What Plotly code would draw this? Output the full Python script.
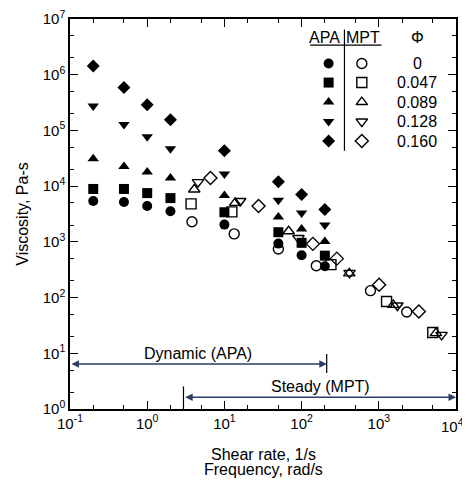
import math
import plotly.graph_objects as go

phi_labels = ["0", "0.047", "0.089", "0.128", "0.160"]
symbols = ["circle", "square", "triangle-up", "triangle-down", "diamond"]

x_tickvals = [0.1, 1, 10, 100, 1000, 10000]
x_ticktext = ["10<sup>-1</sup>", "10<sup>0</sup>", "10<sup>1</sup>", "10<sup>2</sup>",
              "10<sup>3</sup>", "10<sup>4</sup>"]
y_tickvals = [1, 10, 100, 1000, 1e4, 1e5, 1e6, 1e7]
y_ticktext = ["10<sup>0</sup>", "10<sup>1</sup>", "10<sup>2</sup>", "10<sup>3</sup>",
              "10<sup>4</sup>", "10<sup>5</sup>", "10<sup>6</sup>", "10<sup>7</sup>"]

# APA (dynamic) data: frequency, rad/s
apa_freq = [0.2, 0.5, 1, 2, 10, 50, 100, 200]
apa_phi0 = [5400, 5200, 4400, 3550, 2040, 930, 575, 365]
apa_phi047 = [8900, 8900, 7500, 6100, 3400, 1490, 960, 565]
apa_phi089 = [31000, 22500, 18000, 14000, 6800, 2800, 1700, 1020]
apa_phi128 = [275000, 128000, 77000, 47000, 16600, 5600, 3300, 2000]
apa_phi160 = [1440000, 590000, 290000, 156000, 43000, 12000, 7100, 3800]

# MPT (steady) data: shear rate, 1/s
mpt_rate_phi0 = [3.8, 13.4, 50, 155, 780, 2300]
mpt_eta_phi0 = [2300, 1390, 745, 373, 133, 55]
mpt_rate_phi047 = [3.7, 12.5, 240, 1260, 5000]
mpt_eta_phi047 = [4800, 3450, 390, 85, 23.6]
mpt_rate_phi089 = [4.07, 13.8, 68, 415, 1540, 5500]
mpt_eta_phi089 = [8700, 5000, 1550, 272, 74, 23]
mpt_rate_phi128 = [4.55, 16, 91, 418, 1740, 6500]
mpt_eta_phi128 = [11800, 5400, 1170, 278, 72, 21.4]
mpt_rate_phi160 = [6.6, 27.7, 140, 286, 1010, 3300]
mpt_eta_phi160 = [14000, 4400, 920, 500, 170, 56]

apa_sets = [apa_phi0, apa_phi047, apa_phi089, apa_phi128, apa_phi160]
mpt_sets = [
    (mpt_rate_phi0, mpt_eta_phi0),
    (mpt_rate_phi047, mpt_eta_phi047),
    (mpt_rate_phi089, mpt_eta_phi089),
    (mpt_rate_phi128, mpt_eta_phi128),
    (mpt_rate_phi160, mpt_eta_phi160),
]

FONT = "Liberation Sans, Arial, sans-serif"
fig = go.Figure()

for sym, eta in zip(symbols, apa_sets):
    fig.add_trace(go.Scatter(x=apa_freq, y=eta, mode="markers", showlegend=False,
                             marker=dict(symbol=sym, size=10, color="black")))

for sym, (rate, eta) in zip(symbols, mpt_sets):
    fig.add_trace(go.Scatter(x=rate, y=eta, mode="markers", showlegend=False,
                             marker=dict(symbol=sym + "-open", size=10, color="black",
                                         line=dict(width=1.4, color="black"))))


def note(x, y, text, xref="paper", yref="paper", yshift=0, xshift=0, size=16):
    fig.add_annotation(x=x, y=y, xref=xref, yref=yref, text=text, showarrow=False,
                       xanchor="center", yanchor="middle", yshift=yshift, xshift=xshift,
                       font=dict(size=size))


# custom legend table on an overlay axis (0..1 over the plot area)
legend_x_apa, legend_x_mpt, legend_x_phi = 0.670, 0.756, 0.899
legend_rows = [0.886, 0.837, 0.787, 0.737, 0.687]
for sym, ry, lab in zip(symbols, legend_rows, phi_labels):
    fig.add_trace(go.Scatter(x=[legend_x_apa], y=[ry], xaxis="x2", yaxis="y2", mode="markers",
                             showlegend=False, marker=dict(symbol=sym, size=10, color="black")))
    fig.add_trace(go.Scatter(x=[legend_x_mpt], y=[ry], xaxis="x2", yaxis="y2", mode="markers",
                             showlegend=False,
                             marker=dict(symbol=sym + "-open", size=10, color="black",
                                         line=dict(width=1.4, color="black"))))
    note(legend_x_phi, ry, lab)

note(0.660, 0.952, "APA")
note(0.760, 0.952, "MPT")
note(0.899, 0.952, "Φ")
fig.add_shape(type="line", xref="paper", yref="paper", x0=0.622, x1=0.807, y0=0.933, y1=0.933,
              line=dict(color="black", width=1.2))
fig.add_shape(type="line", xref="paper", yref="paper", x0=0.711, x1=0.711, y0=0.662, y1=0.973,
              line=dict(color="black", width=1.2))

# range arrows
fig.add_annotation(x=math.log10(212), y=0.809, ax=-1, ay=0.809, xref="x", yref="y",
                   axref="x", ayref="y", text="", showarrow=True, arrowhead=2,
                   arrowside="end+start", arrowsize=1, arrowwidth=1.5)
fig.add_shape(type="line", xref="paper", yref="paper", x0=0.665, x1=0.665, y0=0.092, y1=0.141,
              line=dict(color="black", width=1.2))
note(math.log10(4.6), 1.0, "Dynamic (APA)", "x", "y")

fig.add_annotation(x=4, y=0.21, ax=math.log10(2.97), ay=0.21, xref="x", yref="y",
                   axref="x", ayref="y", text="", showarrow=True, arrowhead=2,
                   arrowside="end+start", arrowsize=1, arrowwidth=1.5)
fig.add_shape(type="line", xref="paper", yref="paper", x0=0.294, x1=0.294, y0=0.0, y1=0.058,
              line=dict(color="black", width=1.2))
note(math.log10(174), 0.40, "Steady (MPT)", "x", "y")

# last x tick label drawn as a note so it is not clipped at the right edge
note(1, 0, x_ticktext[-1], yshift=-16, xshift=-4, size=15)

# x-axis title, two tight lines
note(0.5, 0, "Shear rate, 1/s", yshift=-45)
note(0.5, 0, "Frequency, rad/s", yshift=-60)

axis_common = dict(type="log", showgrid=False, zeroline=False, automargin=False,
                   showline=True, linecolor="black", linewidth=1.5, mirror="allticks",
                   ticks="inside", ticklen=8, tickwidth=1.2, tickcolor="black",
                   ticklabeloverflow="allow",
                   minor=dict(ticks="inside", ticklen=4, tickwidth=1, tickcolor="black",
                              showgrid=False),
                   tickfont=dict(size=15, color="black"))

fig.update_layout(
    width=470, height=481,
    margin=dict(l=62, r=22, t=11, b=80),
    paper_bgcolor="white", plot_bgcolor="white",
    font=dict(family=FONT, color="black", size=16),
    xaxis=dict(range=[-1, 4], tickvals=x_tickvals, ticktext=x_ticktext[:-1] + [""],
               **axis_common),
    yaxis=dict(range=[0, 7], tickvals=y_tickvals, ticktext=y_ticktext,
               title=dict(text="Viscosity, Pa-s", font=dict(size=16), standoff=10),
               **axis_common),
    xaxis2=dict(overlaying="x", range=[0, 1], visible=False),
    yaxis2=dict(overlaying="y", range=[0, 1], visible=False),
)

fig.write_html("out.html")
